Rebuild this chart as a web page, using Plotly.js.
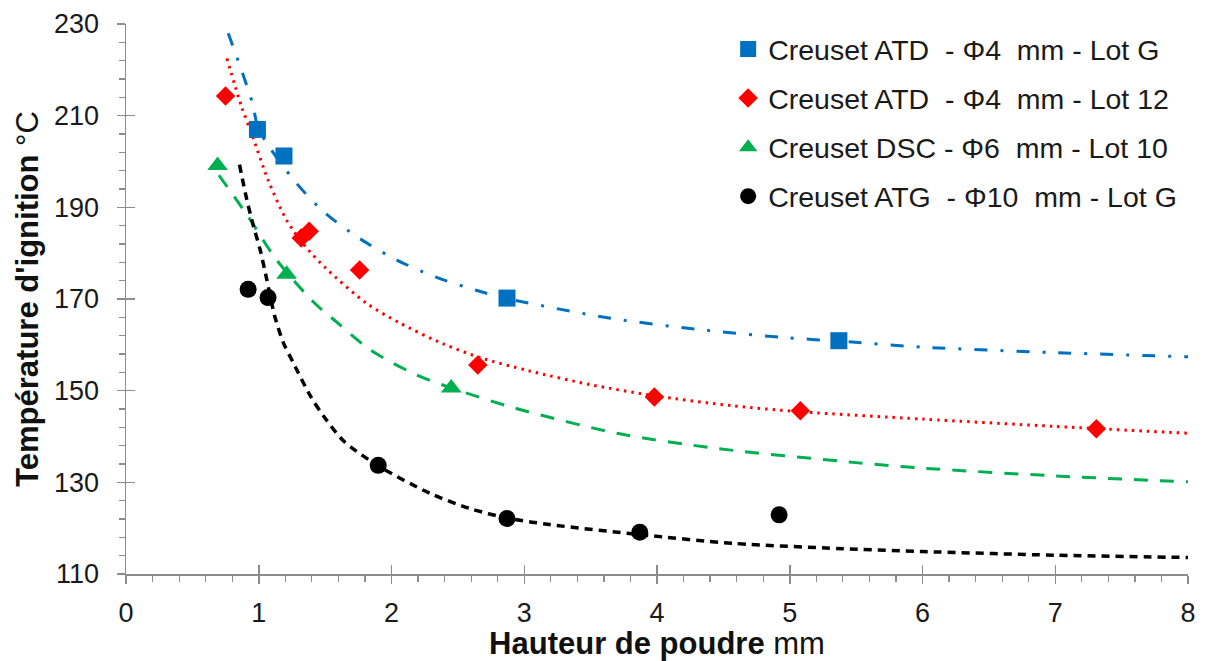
<!DOCTYPE html>
<html>
<head>
<meta charset="utf-8">
<script src="https://cdn.plot.ly/plotly-3.0.1.min.js"></script>
<style>html,body{margin:0;padding:0;background:#fff;}#chart{width:1205px;height:661px;}</style>
</head>
<body>
<div id="chart"></div>
<script>
// Series names
const names = [
  "Creuset ATD\u00a0\u00a0- \u03a64\u00a0\u00a0mm - Lot G",
  "Creuset ATD\u00a0\u00a0- \u03a64\u00a0\u00a0mm - Lot 12",
  "Creuset DSC - \u03a66\u00a0\u00a0mm - Lot 10",
  "Creuset ATG\u00a0\u00a0- \u03a610\u00a0\u00a0mm - Lot G"
];

// Axis ticks
const xTicks = [0, 1, 2, 3, 4, 5, 6, 7, 8];
const yTicks = [110, 130, 150, 170, 190, 210, 230];

// Measured points (x: powder height mm, y: ignition temperature °C)
const blueX = [0.99, 1.19, 2.87, 5.37];
const blueY = [207.0, 201.2, 170.2, 160.9];
const redX = [0.75, 1.32, 1.38, 1.76, 2.65, 3.98, 5.08, 7.31];
const redY = [214.3, 183.3, 184.8, 176.3, 155.6, 148.6, 145.6, 141.7];
const greenX = [0.69, 1.21, 2.45];
const greenY = [199.1, 175.4, 150.6];
const blackX = [0.92, 1.07, 1.90, 2.87, 3.87, 4.92];
const blackY = [172.1, 170.3, 133.7, 122.1, 119.1, 122.9];

// Trend curves
const blueFitX = [0.77, 0.95, 1.0, 1.26, 1.49, 1.76, 2.04, 2.34, 2.65, 2.87, 3.65, 4.3, 4.95, 5.38, 6.0, 7.0, 8.0];
const blueFitY = [228.0, 213.0, 207.0, 196.1, 189.0, 183.2, 178.5, 174.7, 171.8, 170.1, 165.8, 163.4, 161.6, 160.8, 159.5, 158.3, 157.4];
const redFitX = [0.76, 0.87, 0.95, 1.07, 1.21, 1.35, 1.51, 1.81, 2.06, 2.39, 2.68, 3.04, 3.5, 3.98, 4.57, 5.08, 6.0, 7.0, 8.0];
const redFitY = [222.5, 212.0, 205.8, 196.0, 187.2, 181.5, 176.6, 169.1, 164.8, 160.2, 157.1, 154.3, 151.3, 148.9, 146.7, 145.4, 143.8, 142.2, 140.7];
const greenFitX = [0.70, 0.92, 1.13, 1.41, 1.59, 1.84, 2.19, 2.45, 2.94, 3.7, 4.45, 5.5, 6.0, 7.0, 8.0];
const greenFitY = [197.0, 188.0, 178.7, 169.4, 164.9, 158.9, 153.4, 150.6, 146.1, 140.7, 137.4, 134.3, 133.1, 131.4, 130.1];
const blackFitX = [0.855, 0.91, 0.96, 1.01, 1.06, 1.12, 1.185, 1.26, 1.39, 1.5, 1.64, 1.9, 2.29, 2.59, 2.87, 3.19, 3.87, 4.57, 5.5, 6.0, 7.0, 8.0];
const blackFitY = [199.3, 191.7, 185.9, 180.8, 174.3, 166.3, 160.5, 156.1, 148.8, 144.0, 139.0, 133.6, 127.6, 124.3, 122.2, 120.8, 118.6, 116.7, 115.4, 114.9, 114.1, 113.6];

const colors = ["#0070C0", "#FF0000", "#00B050", "#000000"];

const fitLine = (x, y, color, dash, width) => ({
  x: x, y: y, type: "scatter", mode: "lines", showlegend: false, hoverinfo: "skip",
  line: {color: color, dash: dash, width: width, shape: "spline", smoothing: 0.8}
});
const pts = (x, y, name, color, symbol, size, grp) => ({
  x: x, y: y, type: "scatter", mode: "markers", name: name, legendgroup: grp,
  marker: {color: color, symbol: symbol, size: size, line: {width: 0}}
});

const data = [
  fitLine(blueFitX, blueFitY, colors[0], "13px,13px,3px,13px", 3),
  fitLine(redFitX, redFitY, colors[1], "2.5px,5px", 3),
  fitLine(greenFitX, greenFitY, colors[2], "14px,12px", 3),
  fitLine(blackFitX, blackFitY, colors[3], "8px,6px", 3.5),
  pts(blueX, blueY, names[0], colors[0], "square", 17, "a"),
  pts(redX, redY, names[1], colors[1], "diamond", 15, "b"),
  pts(greenX, greenY, names[2], colors[2], "triangle-up", 18, "c"),
  pts(blackX, blackY, names[3], colors[3], "circle", 17, "d"),
  // empty trace that carries the overlay axes (inner half of the crossing ticks)
  {x: [], y: [], type: "scatter", mode: "markers", xaxis: "x2", yaxis: "y2", showlegend: false, hoverinfo: "skip"}
];

const FAM = "Liberation Sans, Arial, sans-serif";
const tickFont = {family: FAM, size: 27, color: "#1a1a1a"};
const titleFont = {family: FAM, size: 31, color: "#111"};
const grey = "#8c8c8c";

const layout = {
  width: 1205, height: 661,
  margin: {l: 126, r: 17, t: 24, b: 87},
  paper_bgcolor: "#fff", plot_bgcolor: "#fff",
  font: tickFont,
  showlegend: true,
  legend: {
    x: 0.567, y: 1.0, xanchor: "left", yanchor: "top",
    font: {family: FAM, size: 28.5, color: "#1a1a1a"},
    bgcolor: "rgba(255,255,255,0)", tracegroupgap: 9, itemsizing: "trace"
  },
  xaxis: {
    range: [0, 8], tickmode: "array", tickvals: xTicks,
    showgrid: false, zeroline: false,
    showline: true, linecolor: grey, linewidth: 1.5,
    ticks: "outside", ticklen: 8, tickwidth: 1.5, tickcolor: grey,
    ticklabelstandoff: 6,
    minor: {dtick: 0.2, tick0: 0, ticks: "outside", ticklen: 6, tickwidth: 1.2, tickcolor: grey, showgrid: false},
    tickfont: tickFont,
    title: {text: "<b>Hauteur de poudre</b> mm", font: titleFont, standoff: 6}
  },
  yaxis: {
    range: [110, 230], tickmode: "array", tickvals: yTicks,
    showgrid: false, zeroline: false,
    showline: true, linecolor: grey, linewidth: 1.5,
    ticks: "outside", ticklen: 8, tickwidth: 1.5, tickcolor: grey,
    ticklabelstandoff: 12,
    minor: {dtick: 4, tick0: 110, ticks: "outside", ticklen: 6, tickwidth: 1.2, tickcolor: grey, showgrid: false},
    tickfont: tickFont,
    title: {text: "<b>Température d'ignition</b> °C", font: titleFont, standoff: 6}
  },
  xaxis2: {
    overlaying: "x", anchor: "y2", side: "bottom", range: [0, 8],
    tickmode: "array", tickvals: xTicks, ticks: "inside", ticklen: 9, tickwidth: 1.5, tickcolor: grey,
    showticklabels: false, showline: false, showgrid: false, zeroline: false
  },
  yaxis2: {
    overlaying: "y", anchor: "x2", side: "left", range: [110, 230],
    tickmode: "array", tickvals: yTicks, ticks: "inside", ticklen: 9, tickwidth: 1.5, tickcolor: grey,
    showticklabels: false, showline: false, showgrid: false, zeroline: false
  }
};

Plotly.newPlot("chart", data, layout, {displayModeBar: false, staticPlot: true});
</script>
</body>
</html>
